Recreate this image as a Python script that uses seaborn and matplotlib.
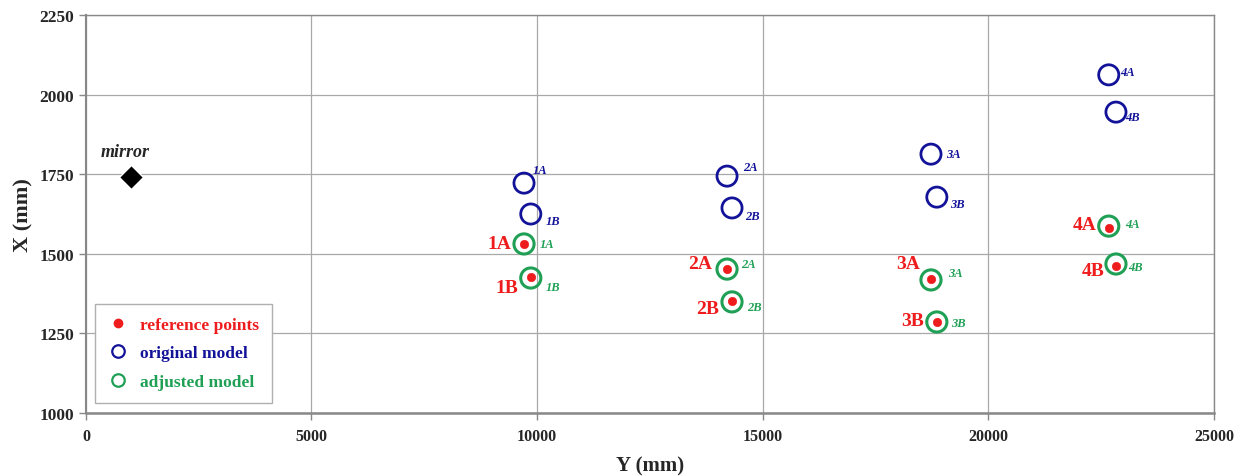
import numpy as np
import pandas as pd
import matplotlib.pyplot as plt
import seaborn as sns
from matplotlib.lines import Line2D

# data
labels = ['1A', '1B', '2A', '2B', '3A', '3B', '4A', '4B']
y_pos = [9710, 9860, 14210, 14320, 18730, 18860, 22670, 22830]
x_orig = [1722, 1625, 1744, 1644, 1813, 1678, 2062, 1945]
x_adj = [1531, 1424, 1452, 1349, 1418, 1286, 1587, 1468]
x_ref = [1531, 1428, 1452, 1351, 1420, 1285, 1582, 1462]
mirror_y = [1000]
mirror_x = [1742]

RED = '#ee1c1c'
BLUE = '#13139a'
GREEN = '#1fa055'

df = pd.DataFrame({'label': labels, 'Y': y_pos, 'orig': x_orig,
                   'adj': x_adj, 'ref': x_ref})

sns.set_style("white")
plt.rcParams['font.family'] = ['Liberation Serif', 'DejaVu Serif']

fig = plt.figure(figsize=(12.45, 4.77), dpi=100)
ax = fig.add_axes([0.069, 0.132, 0.906, 0.8345])

sns.scatterplot(data=df, x='Y', y='orig', ax=ax, s=210, facecolor='none',
                edgecolor=BLUE, linewidth=2.0, legend=False, zorder=3)
sns.scatterplot(data=df, x='Y', y='adj', ax=ax, s=210, facecolor='none',
                edgecolor=GREEN, linewidth=2.2, legend=False, zorder=3)
sns.scatterplot(data=df, x='Y', y='ref', ax=ax, s=36, color=RED,
                edgecolor=RED, legend=False, zorder=4)
sns.scatterplot(x=mirror_y, y=mirror_x, ax=ax, marker='D', s=150,
                color='black', legend=False, zorder=4)
ax.annotate('mirror', (mirror_y[0], mirror_x[0]), xytext=(-30, 17),
            textcoords='offset pixels', fontsize=13, fontweight='bold',
            style='italic', va='bottom')

# label offsets in pixels
blue_off = [(16, 13), (22, -7), (23, 9), (20, -8), (22, 0), (21, -7), (19, 3), (17, -5)]
green_off = [(23, 0), (22, -9), (21, 5), (22, -5), (24, 7), (22, -1), (24, 2), (20, -3)]
red_off = [(-13, 0), (-13, -11), (-15, 6), (-13, -7), (-11, 16), (-13, 2), (-12, 3), (-11, -5)]

for i, lab in enumerate(labels):
    ax.annotate(lab, (y_pos[i], x_orig[i]), xytext=blue_off[i],
                textcoords='offset pixels', color=BLUE, fontsize=9,
                fontweight='bold', style='italic', ha='center', va='center')
    ax.annotate(lab, (y_pos[i], x_adj[i]), xytext=green_off[i],
                textcoords='offset pixels', color=GREEN, fontsize=9,
                fontweight='bold', style='italic', ha='center', va='center')
    ax.annotate(lab, (y_pos[i], x_ref[i]), xytext=red_off[i],
                textcoords='offset pixels', color=RED, fontsize=14,
                fontweight='bold', ha='right', va='center')

ax.set_xlim(0, 25000)
ax.set_ylim(1000, 2250)
ax.set_xticks(np.arange(0, 25001, 5000))
ax.set_yticks(np.arange(1000, 2251, 250))
ax.grid(True, color='#a8a8a8', linewidth=0.9)
ax.set_axisbelow(True)
for sp in ax.spines.values():
    sp.set_color('#888888')
    sp.set_linewidth(1.0)
ax.spines['left'].set_linewidth(1.5)
ax.spines['bottom'].set_linewidth(1.8)
ax.tick_params(axis='both', length=5, color='#888888', width=1,
               direction='out', left=True, bottom=True)
ax.tick_params(axis='x', labelsize=11.5, pad=6)
ax.tick_params(axis='y', labelsize=12.5)
for t in ax.get_xticklabels() + ax.get_yticklabels():
    t.set_fontweight('bold')
ax.set_xlabel('Y (mm)', fontsize=15, fontweight='bold', labelpad=8)
ax.set_ylabel('X (mm)', fontsize=16, fontweight='bold', labelpad=4)

handles = [
    Line2D([], [], marker='o', linestyle='none', color=RED, markersize=6),
    Line2D([], [], marker='o', linestyle='none', markerfacecolor='none',
           markeredgecolor=BLUE, markeredgewidth=1.6, markersize=9),
    Line2D([], [], marker='o', linestyle='none', markerfacecolor='none',
           markeredgecolor=GREEN, markeredgewidth=1.6, markersize=9),
]
leg = ax.legend(handles, ['reference points', 'original model', 'adjusted model'],
                loc='lower left', bbox_to_anchor=(0.008, 0.025), fancybox=False,
                framealpha=1, edgecolor='#b0b0b0', labelspacing=0.72,
                handlelength=1.2, handletextpad=0.65, borderpad=0.75,
                borderaxespad=0, prop={'weight': 'bold', 'size': 12.5})
for txt, c in zip(leg.get_texts(), [RED, BLUE, GREEN]):
    txt.set_color(c)

fig.savefig('out.png', dpi=100)
